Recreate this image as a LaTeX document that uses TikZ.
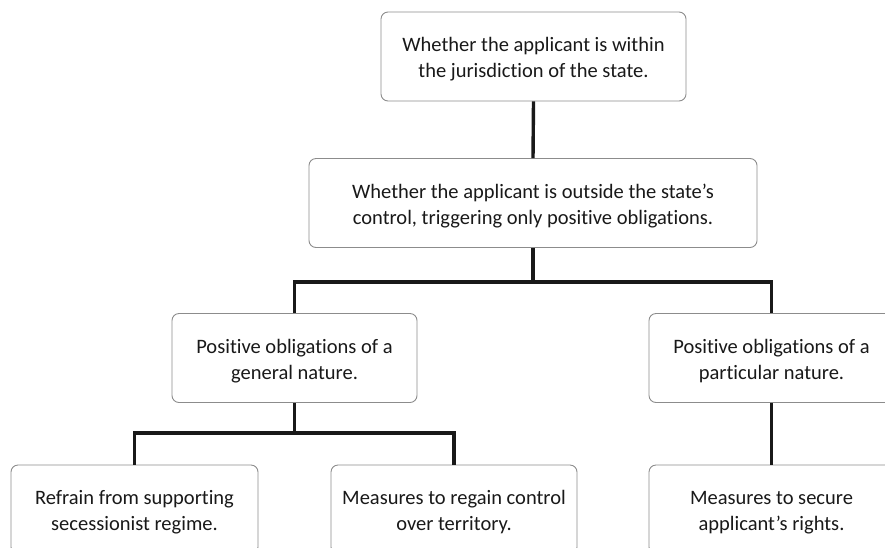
\documentclass[tikz,border=0pt]{standalone}
\usepackage{fontspec}
\setmainfont{Carlito}[Ligatures=NoCommon]
\begin{document}
\begin{tikzpicture}[x=1pt,y=1pt,
  box/.style={draw=black!45, line width=0.9pt, rounded corners=7pt, fill=white,
    align=center, inner sep=0pt, font=\fontsize{20.5}{26}\selectfont, text=black!90,
    text height=47pt, text depth=5pt, minimum height=89},
  conn/.style={line width=3.4pt, black!90}]
\useasboundingbox (0,0) rectangle (885,-547);
\clip (0,0) rectangle (885,-547);
\node[box, minimum width=305] (b1) at (533.5,-56.5)
  {Whether the applicant is within\\the jurisdiction of the state.};
\node[box, minimum width=448] (b2) at (533,-203)
  {Whether the applicant is outside the state’s\\control, triggering only positive obligations.};
\node[box, minimum width=245] (b3) at (294.5,-358)
  {Positive obligations of a\\general nature.};
\node[box, minimum width=245] (b4) at (771.5,-358)
  {Positive obligations of a\\particular nature.};
\node[box, minimum width=247] (b5) at (134.5,-509.5)
  {Refrain from supporting\\secessionist regime.};
\node[box, minimum width=246] (b6) at (454,-509.5)
  {Measures to regain control\\over territory.};
\node[box, minimum width=245] (b7) at (771.5,-509.5)
  {Measures to secure\\applicant’s rights.};
\coordinate (j1) at (533,-282);
\coordinate (j2) at (294.5,-433);
\draw[conn] (b1.south) -- (b2.north);
\draw[conn] (b2.south) -- (j1);
\draw[conn] (b3.north) |- (j1) -| (b4.north);
\draw[conn] (b3.south) -- (j2);
\draw[conn] (b5.north) |- (j2) -| (b6.north);
\draw[conn] (b4.south) -- (b7.north);
\end{tikzpicture}
\end{document}
